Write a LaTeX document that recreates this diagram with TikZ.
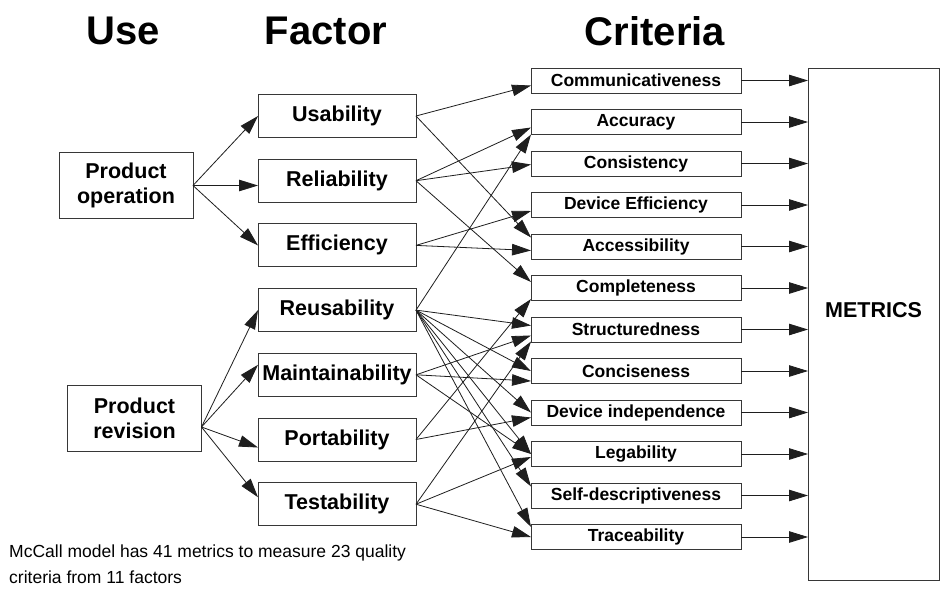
\documentclass[tikz,border=0pt]{standalone}
\usepackage{fontspec}
\setmainfont{Liberation Sans}
\usetikzlibrary{arrows.meta,positioning,calc}
\definecolor{mcedge}{RGB}{55,55,55}
\definecolor{mcline}{RGB}{30,30,30}
\tikzset{
  mcbox/.style={
    draw=mcedge, line width=1pt, fill=white, outer sep=0pt,
    align=center, inner sep=2pt,
    font=\fontsize{21.5}{25}\selectfont\bfseries
  },
  usg/.style={mcbox, minimum width=134pt, minimum height=66pt},
  fct/.style={mcbox, minimum width=158pt, minimum height=43pt},
  crt/.style={mcbox, minimum width=210pt, minimum height=25pt,
    font=\fontsize{17.5}{20}\selectfont\bfseries},
  met/.style={mcbox, minimum width=131pt, minimum height=512pt, text depth=28pt},
  head/.style={font=\fontsize{40}{46}\selectfont\bfseries},
  note/.style={font=\fontsize{17.5}{26}\selectfont, align=left, inner sep=0pt},
  arr/.style={-{Triangle[length=19pt,width=11.5pt]}, draw=mcline, line width=0.8pt}
}
\begin{document}
\begin{tikzpicture}[x=1pt, y=-1pt]
  \useasboundingbox[fill=white] (0,0) rectangle (941,595);
  % column heads
  \node[head] (hu) at (123,31) {Use};
  \node[head] (hf) at (326,31) {Factor};
  \node[head] (hc) at (655,31) {Criteria};
  % use
  \node[usg] (op) at (126,185.5) {Product\\operation};
  \node[usg] (rv) at (134.5,418) {Product\\revision};
  % factors
  \begin{scope}[node distance=21.7pt]
    \node[fct] (usab) at (337,116) {Usability};
    \node[fct, below=of usab] (rel) {Reliability};
    \node[fct, below=of rel] (eff) {Efficiency};
    \node[fct, below=of eff] (reus) {Reusability};
    \node[fct, below=of reus] (maint) {Maintainability};
    \node[fct, below=of maint] (port) {Portability};
    \node[fct, below=of port] (test) {Testability};
  \end{scope}
  % criteria
  \begin{scope}[node distance=16.5pt]
    \node[crt] (comm) at (636,80.5) {Communicativeness};
    \node[crt, below=of comm] (accu) {Accuracy};
    \node[crt, below=of accu] (cons) {Consistency};
    \node[crt, below=of cons] (deff) {Device Efficiency};
    \node[crt, below=of deff] (accs) {Accessibility};
    \node[crt, below=of accs] (cmpl) {Completeness};
    \node[crt, below=of cmpl] (strc) {Structuredness};
    \node[crt, below=of strc] (conc) {Conciseness};
    \node[crt, below=of conc] (dind) {Device independence};
    \node[crt, below=of dind] (legb) {Legability};
    \node[crt, below=of legb] (sdsc) {Self-descriptiveness};
    \node[crt, below=of sdsc] (trce) {Traceability};
  \end{scope}
  \node[met] (metr) at (873.5,324) {METRICS};
  \node[note, anchor=north west] (cap) at (9,545)
    {McCall model has 41 metrics to measure 23 quality\\criteria from 11 factors};

  % use -> factor
  \draw[arr] (op.east) -- (usab.west);
  \draw[arr] (op.east) -- (op.east -| rel.west);
  \draw[arr] (op.east) -- (eff.west);
  \coordinate (rvo) at ([yshift=-9pt]rv.east);
  \draw[arr] (rvo) -- (reus.west);
  \draw[arr] (rvo) -- ([yshift=10pt]maint.west);
  \draw[arr] (rvo) -- ([yshift=-8pt]port.west);
  \draw[arr] (rvo) -- ([yshift=7pt]test.west);

  % factor -> criteria
  \foreach \f/\c/\s in {usab/comm/-5, usab/accs/9,
      rel/accu/-5.5, rel/cons/-1, rel/cmpl/6,
      eff/deff/-6, eff/accs/-4,
      reus/accu/-12.5, reus/strc/4, reus/conc/0, reus/dind/0,
      reus/legb/0, reus/sdsc/9, reus/trce/10,
      maint/strc/-6, maint/conc/-10, maint/legb/0,
      port/cmpl/-11, port/dind/-5,
      test/strc/-12, test/legb/-3, test/trce/0}
    \draw[arr] (\f.east) -- ([yshift=\s pt]\c.west);

  % criteria -> metrics
  \foreach \c in {comm,accu,cons,deff,accs,cmpl,strc,conc,dind,legb,sdsc,trce}
    \draw[arr] (\c.east) -- (\c.east -| metr.west);
\end{tikzpicture}
\end{document}
